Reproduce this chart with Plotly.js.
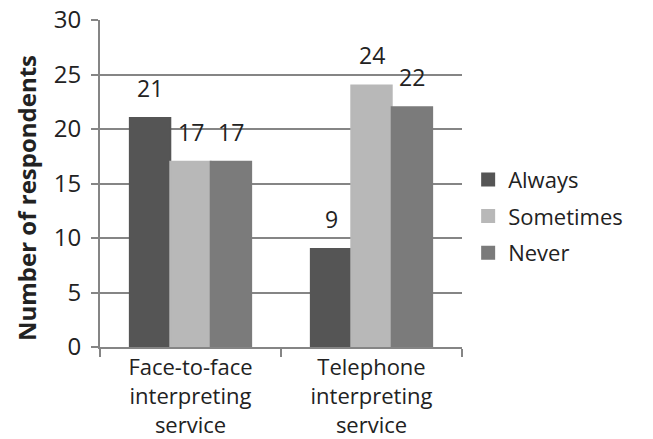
<!DOCTYPE html>
<html>
<head>
<meta charset="utf-8">
<script src="https://cdn.plot.ly/plotly-3.0.1.min.js"></script>
<style>html,body{margin:0;padding:0;background:#fff;}#chart{width:653px;height:439px;}</style>
</head>
<body>
<div id="chart"></div>
<script>
var categories = ["Face-to-face<br>interpreting<br>service", "Telephone<br>interpreting<br>service"];
var seriesNames = ["Always", "Sometimes", "Never"];
var always = [21, 9];
var sometimes = [17, 24];
var never = [17, 22];
var seriesValues = [always, sometimes, never];
var seriesColors = ["#555555", "#b8b8b8", "#7b7b7b"];
var yTitle = "Number of respondents";

var FONT = "Open Sans, Liberation Sans, sans-serif";
var bargap = 0.33;
var barW = (1 - bargap) / seriesNames.length;

var traces = seriesNames.map(function (name, i) {
  return {
    type: "bar",
    name: name,
    x: categories,
    y: seriesValues[i],
    marker: { color: seriesColors[i], line: { color: seriesColors[i], width: 2 } },
    legendgroup: name,
    hoverinfo: "none"
  };
});

var annotations = [];
seriesValues.forEach(function (vals, i) {
  vals.forEach(function (v, j) {
    annotations.push({
      x: j + (i - 1) * barW,
      y: v,
      xref: "x",
      yref: "y",
      text: String(v),
      showarrow: false,
      yshift: 30,
      font: { family: FONT, size: 23, color: "#222" }
    });
  });
});
annotations.push({
  xref: "paper", yref: "paper",
  x: -0.205, y: 0.455,
  xanchor: "center", yanchor: "middle",
  textangle: -90,
  showarrow: false,
  text: "<b>" + yTitle + "</b>",
  font: { family: FONT, size: 24, color: "#222" }
});

var layout = {
  width: 653,
  height: 439,
  margin: { l: 100, r: 191, t: 20, b: 92 },
  paper_bgcolor: "#fff",
  plot_bgcolor: "#fff",
  bargap: bargap,
  bargroupgap: 0,
  font: { family: FONT, size: 23, color: "#222" },
  xaxis: {
    type: "category",
    tickson: "boundaries",
    ticks: "outside",
    ticklen: 8,
    tickwidth: 2,
    tickcolor: "#858585",
    showline: true,
    linecolor: "#858585",
    linewidth: 2,
    showgrid: false,
    tickfont: { family: FONT, size: 22, color: "#222" }
  },
  yaxis: {
    range: [0, 30],
    dtick: 5,
    ticks: "outside",
    ticklen: 7,
    tickwidth: 2,
    tickcolor: "#858585",
    showline: true,
    linecolor: "#858585",
    linewidth: 2,
    gridcolor: "#858585",
    gridwidth: 2,
    zeroline: false,
    ticklabelstandoff: 5,
    tickfont: { family: FONT, size: 24, color: "#222" }
  },
  legend: {
    x: 1.017,
    xanchor: "left",
    y: 0.40,
    yanchor: "middle",
    font: { family: FONT, size: 22, color: "#222" },
    tracegroupgap: 5,
    itemwidth: 30
  },
  annotations: annotations,
  showlegend: true
};

Plotly.newPlot("chart", traces, layout, { staticPlot: true, displayModeBar: false });
</script>
</body>
</html>
